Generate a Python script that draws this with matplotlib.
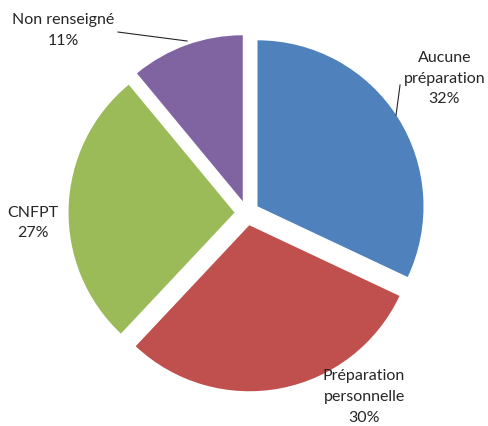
import matplotlib.pyplot as plt

labels = ['Aucune\npréparation', 'Préparation\npersonnelle', 'CNFPT', 'Non renseigné']
values = [32, 30, 27, 11]
colors = ['#4F81BD', '#C0504D', '#9BBB59', '#8064A2']
explode = [0.075, 0.075, 0.075, 0.075]

# label positions (data coords, radius 1 = pie)
label_pos = [(1.19, 0.81), (0.705, -1.108), (-1.289, -0.06), (-1.108, 1.10)]

plt.rcParams['font.family'] = ['Lato', 'DejaVu Sans']

fig = plt.figure(figsize=(4.89, 4.26), dpi=100)
ax = fig.add_axes([0, 0, 1, 1])

ax.pie(values, colors=colors, explode=explode, startangle=90,
       counterclock=False, radius=1.0, center=(0, 0))

for lab, val, (x, y) in zip(labels, values, label_pos):
    ax.text(x, y, f'{lab}\n{val}%', ha='center', va='center',
            fontsize=11.5, color='#262626', linespacing=1.6)

# leader lines
ax.plot([-0.777, -0.361], [1.09, 1.036], color='#262626', lw=0.8)
ax.plot([0.922, 0.898], [0.771, 0.590], color='#262626', lw=0.8)

ax.set_xlim(-1.488, 1.458)
ax.set_ylim(-1.283, 1.283)
ax.set_aspect('auto')
ax.axis('off')

fig.savefig('out.png', dpi=100)
